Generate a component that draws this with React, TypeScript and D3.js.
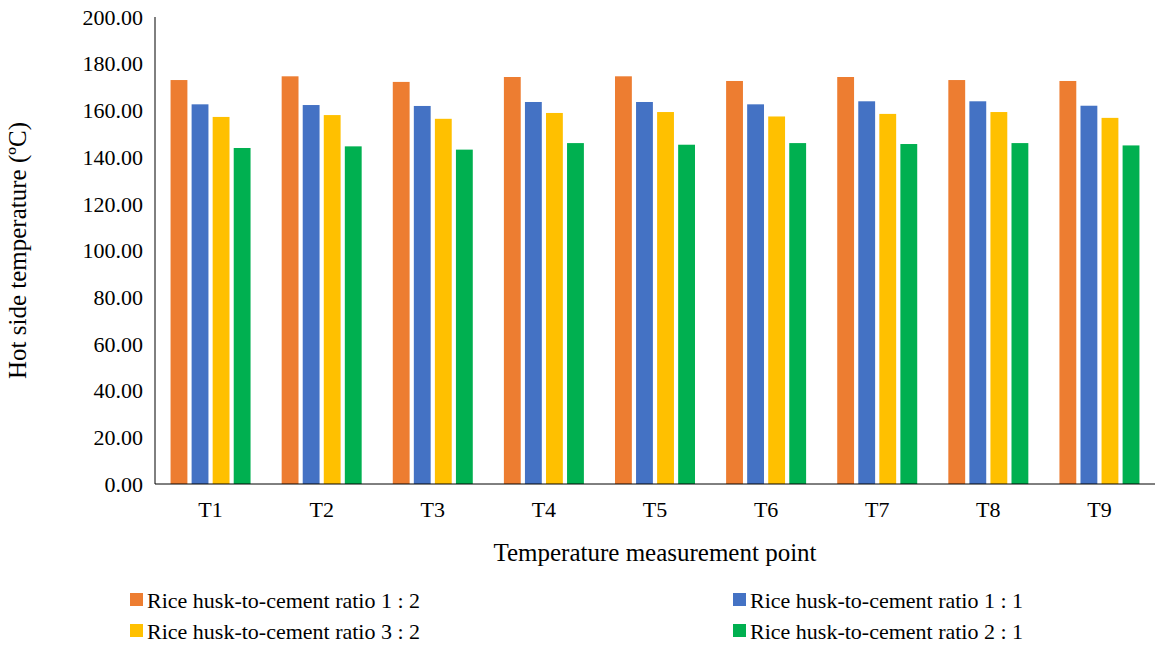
import * as d3 from "d3";

const categories = ["T1", "T2", "T3", "T4", "T5", "T6", "T7", "T8", "T9"];
const seriesNames = [
  "Rice husk-to-cement ratio 1 : 2",
  "Rice husk-to-cement ratio 1 : 1",
  "Rice husk-to-cement ratio 3 : 2",
  "Rice husk-to-cement ratio 2 : 1",
];
const colors = ["#ED7D31", "#4472C4", "#FFC000", "#00B050"];
const ratio12 = [173.0, 174.6, 172.2, 174.3, 174.6, 172.6, 174.3, 173.0, 172.6];
const ratio11 = [162.6, 162.3, 161.9, 163.6, 163.6, 162.6, 163.9, 163.9, 162.0];
const ratio32 = [157.2, 158.0, 156.4, 158.9, 159.3, 157.4, 158.5, 159.3, 156.8];
const ratio21 = [143.9, 144.6, 143.2, 146.0, 145.3, 146.0, 145.6, 146.0, 145.0];
const series = [ratio12, ratio11, ratio32, ratio21];
const yTicks = d3.range(0, 201, 20);

export default function App() {
  const W = 1163, H = 646;
  const left = 155, right = 1155, top = 17, bottom = 484;
  const x = d3.scaleBand().domain(categories).range([left, right]);
  const inner = d3.scaleBand().domain(["0", "1", "2", "3"]).range([0, 80]).paddingInner(0.2);
  const y = d3.scaleLinear().domain([0, 200]).range([bottom, top]);
  const font = "Liberation Serif, DejaVu Serif, serif";

  return (
    <svg width={W} height={H} style={{ position: "absolute", left: 0, top: 0, background: "#fff", fontFamily: font }}>
      {yTicks.map((t) => (
        <text key={t} x={left - 12} y={y(t)} dy="0.35em" textAnchor="end" fontSize={22}>
          {t.toFixed(2)}
        </text>
      ))}
      {categories.map((c, i) => (
        <g key={c}>
          {series.map((s, j) => (
            <rect
              key={j}
              x={x(c)! + (x.bandwidth() - 80) / 2 + inner(String(j))!}
              y={y(s[i])}
              width={inner.bandwidth()}
              height={bottom - y(s[i])}
              fill={colors[j]}
            />
          ))}
          <text x={x(c)! + x.bandwidth() / 2} y={bottom + 33} textAnchor="middle" fontSize={22}>
            {c}
          </text>
        </g>
      ))}
      <line x1={left} x2={left} y1={top} y2={bottom} stroke="#000" />
      <line x1={left} x2={right} y1={bottom} y2={bottom} stroke="#000" />
      <text x={(left + right) / 2} y={561} textAnchor="middle" fontSize={25}>
        Temperature measurement point
      </text>
      <text transform={`translate(26,${(top + bottom) / 2}) rotate(-90)`} textAnchor="middle" fontSize={25}>
        Hot side temperature (ºC)
      </text>
      {seriesNames.map((n, j) => {
        const lx = j % 2 === 0 ? 130 : 733;
        const ly = j < 2 ? 600 : 631;
        return (
          <g key={n}>
            <rect x={lx} y={ly - 7} width={13} height={13} fill={colors[j]} />
            <text x={lx + 17} y={ly} dy="0.35em" fontSize={22}>
              {n}
            </text>
          </g>
        );
      })}
    </svg>
  );
}
